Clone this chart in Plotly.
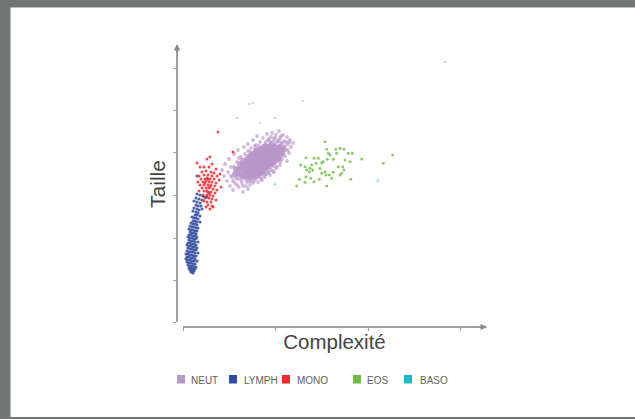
import plotly.graph_objects as go

NEUT_OUTLIERS = [(66,218),(70,219),(54,204),(92,204),(120,221),(77,199),(262,260)]
NEUT_FRINGE = [
(39,152),(41,146),(42,158),(44,141),(45,150),(46,163),(47,136),(48,155),(49,145),(50,132),(51,168),(52,139),(53,149),(54,160),
(55,143),(55,172),(56,135),(57,154),(58,147),(58,165),(59,139),(60,130),(60,157),(61,150),(61,175),(62,143),(62,168),(63,136),(63,161),
(64,153),(64,146),(65,178),(65,171),(65,133),(66,141),(66,158),(66,165),(67,149),(67,137),(68,155),(68,174),(69,144),(69,162),(69,168),
(70,151),(70,182),(70,139),(71,158),(71,147),(71,165),(72,172),(72,153),(72,143),(73,160),(73,177),(73,149),(74,186),(74,167),(74,156),
(75,140),(75,163),(75,152),(76,171),(76,146),(76,158),(77,180),(77,165),(77,151),(78,143),(78,161),(78,174),(79,155),(79,168),(79,148),
(80,184),(80,163),(80,157),(81,176),(81,150),(81,171),(82,160),(82,166),(82,145),(83,153),(83,180),(83,173),(84,158),(84,164),(84,188),
(85,150),(85,169),(85,176),(86,155),(86,161),(86,183),(87,147),(87,166),(87,172),(88,158),(88,179),(88,152),(89,164),(89,170),(89,189),
(90,175),(90,156),(90,161),(91,167),(91,183),(91,150),(92,172),(92,178),(92,159),(93,164),(93,169),(93,187),(94,175),(94,155),(95,181),
(95,162),(95,170),(96,166),(96,176),(96,191),(97,157),(97,173),(97,184),(98,168),(98,179),(99,163),(99,175),(100,187),(100,171),(101,181),
(102,166),(102,176),(103,172),(104,185),(104,161),(105,178),(106,169),(107,182),(108,175),(110,179),
(48,146),(50,141),(51,155),(53,144),(54,137),(56,148),(56,164),(58,142),(59,158),(60,136),(62,148),(62,160),(64,140),(65,166),(66,145),(67,170),(68,141),
(70,165),(71,141),(72,176),(73,144),(74,172),(75,145),(76,176),(77,146),(78,170),(79,142),(80,176),(81,146),(82,178),(83,148),(84,176),(85,182),(86,150),
(87,180),(88,185),(90,151),(90,180),(92,184),(93,154),(94,180),(96,182),(97,160),(98,186),(99,179),(101,170),(101,175),(103,180),(105,172),(106,180),
]
NEUT_DENSE = [
(52,148),(53,153),(55,148),(56,153),(57,158),(58,150),(59,146),(60,155),(60,161),(61,147),(62,153),(63,149),(63,158),(64,145),(64,163),(65,152),(65,157),
(66,148),(66,154),(66,161),(67,145),(67,150),(67,157),(67,165),(68,147),(68,152),(68,160),(68,166),(69,149),(69,155),(69,160),(70,146),(70,153),(70,158),
(70,168),(71,150),(71,155),(71,162),(72,148),(72,157),(72,160),(72,168),(73,152),(73,156),(73,165),(73,171),(74,149),(74,154),(74,160),(75,150),(75,158),
(75,166),(75,172),(76,153),(76,157),(76,163),(76,169),(77,149),(77,155),(77,160),(77,168),(78,152),(78,157),(78,164),(78,172),(79,150),(79,156),(79,161),
(79,169),(80,154),(80,160),(80,166),(80,173),(81,152),(81,157),(81,163),(81,169),(82,155),(82,161),(82,168),(82,175),(83,158),(83,164),(83,171),(84,155),
(84,161),(84,167),(84,174),(85,158),(85,164),(85,171),(86,156),(86,162),(86,168),(86,175),(87,159),(87,165),(87,172),(88,161),(88,168),(88,176),(89,158),
(89,164),(89,171),(90,162),(90,167),(90,174),(91,160),(91,166),(91,172),(92,164),(92,169),(92,175),(93,162),(93,168),(93,173),(94,165),(94,171),(95,168),
(95,174),(96,163),(96,171),(97,168),(97,175),(98,171),(99,168),(100,173),
]
LYMPH = [
(14,146),(14,128),(17,127),(20,126),(22,125),(24,125),(13,124),(16,123),(19,122),(11,121),(14,120),(17,119),(13,117),(15,116),(18,116),(11,114),(14,113),(16,112),
(19,113),(10,111),(13,110),(15,109),(12,107),(14,107),(17,106),(9,105),(11,104),(13,104),(15,103),(10,101),(12,101),(14,100),(17,100),(8,99),(10,98),(12,98),(14,97),
(7,96),(9,95),(11,95),(13,94),(15,94),(6,93),(8,92),(10,92),(12,91),(14,91),(7,90),(9,89),(11,89),(13,88),(6,87),(8,87),(10,86),(12,86),(14,85),(5,85),(7,84),(9,84),
(11,83),(13,83),(6,82),(8,81),(10,81),(12,80),(15,80),(5,79),(7,79),(9,78),(11,78),(13,77),(4,77),(6,76),(8,76),(10,75),(12,75),(14,74),(5,74),(7,73),(9,73),(11,72),
(13,72),(4,71),(6,70),(8,70),(10,70),(12,69),(15,69),(3,68),(5,68),(7,67),(9,67),(11,66),(13,66),(4,65),(6,65),(8,64),(10,64),(12,63),(3,63),(5,62),(7,62),(9,61),
(11,61),(14,61),(4,60),(6,59),(8,59),(10,58),(12,58),(5,57),(7,56),(9,56),(11,55),(13,55),(6,54),(8,54),(10,53),(12,53),(7,52),(9,51),(11,51),(8,50),(10,49),
]
MONO = [
(35,190),(27,165),(14,159),(24,163),(29,158),(17,155),(21,155),(26,155),(33,153),(19,150),(23,151),(28,150),(31,149),(37,148),(16,146),(21,147),
(25,147),(29,146),(34,146),(18,143),(22,143),(24,144),(27,143),(31,143),(36,142),(15,140),(20,140),(23,141),(26,140),(29,140),(33,139),(17,137),
(21,137),(25,137),(28,137),(32,136),(38,135),(19,134),(23,134),(26,134),(30,133),(34,132),(16,131),(21,131),(25,130),(28,130),(32,129),(20,127),
(24,127),(27,127),(30,126),(22,124),(26,124),(29,123),(33,122),(21,121),(24,120),(28,120),(25,117),(29,116),(23,115),(27,113),(30,115),(25,143),(22,139),(27,135),
(24,131),(26,129),(50,170),
]
EOS = [
(142,180.3),(143.7,172.7),(157,173.7),(152.7,172.7),(161,172.7),(165.3,168.7),(169.3,168.7),(145.3,168.7),(147,167),(153.7,168.7),(123,164.3),
(131,163.7),(135.3,163.7),(144.3,162.7),(150.3,162.7),(140.3,160.3),(138.7,159.3),(162,162),(167,160.3),(178.7,163),(209.7,167),(200.3,158.7),
(117.7,157),(122,155.3),(128.7,157),(133,158.7),(155.3,155.3),(159.7,155.3),(161,152),(137,153.7),(127,153.7),(123.7,152),(126.3,150.3),
(142,150.3),(138.7,148.7),(150.3,149.7),(158.7,148.7),(157,147),(146.3,147),(148.7,143.7),(123,145.3),(116.3,142.7),(127.7,143.7),(122,139.7),
(131,140.3),(136.3,142.7),(167.7,142.7),(113.7,136),(143.7,136),(143,147),(129.7,152),
]
BASO = [(92,137.7),(194.7,141.3),(83.7,147.7)]

LEGEND_NAMES = ["NEUT", "LYMPH", "MONO", "EOS", "BASO"]
LEGEND_COLORS = ["#b897c9", "#2f4a9f", "#ee2a30", "#6fbd45", "#1fb9c2"]
X_TICKS = [0, 92, 185, 277]
Y_TICKS = [0, 42, 84, 127, 170, 212, 254]
X_TITLE, Y_TITLE = "Complexité", "Taille"

W, H = 635, 419
L, R, T, B = 177, 486, 46, 327
PW, PH = R - L, B - T
px = lambda v: (v - L) / PW
py = lambda v: (B - v) / PH
GREY = "#6f7775"
AX = "#a0a0a0"
TXT = "#444444"

fig = go.Figure()
series = [(NEUT_OUTLIERS, 0, 2.6, 0.45), (NEUT_FRINGE, 0, 3.8, 0.65), (NEUT_DENSE, 0, 6, 0.85),
          (LYMPH, 1, 3.2, 0.85), (MONO, 2, 3, 0.85), (EOS, 3, 3, 0.8), (BASO, 4, 3, 0.4)]
for pts, i, size, op in series:
    fig.add_trace(go.Scatter(
        x=[p[0] for p in pts], y=[p[1] for p in pts], mode="markers", name=LEGEND_NAMES[i],
        showlegend=False, marker=dict(color=LEGEND_COLORS[i], size=size, opacity=op, line=dict(width=0)),
        cliponaxis=False))

shapes = [
    dict(type="rect", xref="paper", yref="paper", x0=px(0), x1=px(W), y0=py(H), y1=py(0),
         fillcolor=GREY, line_width=0, layer="below"),
    dict(type="rect", xref="paper", yref="paper", x0=px(10.5), x1=px(W + 2), y0=py(417), y1=py(7.5),
         fillcolor="white", line_width=0, layer="below"),
]
annos = []
SQUARES = [181, 233, 286, 357, 408]
LABELS = [189, 242, 295, 365, 418]
for c, sq, lb, n in zip(LEGEND_COLORS, SQUARES, LABELS, LEGEND_NAMES):
    shapes.append(dict(type="rect", xref="paper", yref="paper", x0=px(sq - 4), x1=px(sq + 4), y0=py(383.5), y1=py(375),
                       fillcolor=c, line_width=0))
    annos.append(dict(text=n, xref="paper", yref="paper", x=px(lb), y=py(380), xanchor="left", yanchor="middle",
                      showarrow=False, font=dict(family="Liberation Sans", size=10, color="#606060")))
# arrow heads
annos.append(dict(xref="paper", yref="paper", x=px(487), y=py(327), ax=-9, ay=0, text="",
                  showarrow=True, arrowhead=2, arrowsize=0.8, arrowwidth=1.6, arrowcolor="#8a8a8a"))
annos.append(dict(xref="paper", yref="paper", x=px(177), y=py(44), ax=0, ay=10, text="",
                  showarrow=True, arrowhead=2, arrowsize=0.8, arrowwidth=1.6, arrowcolor="#8a8a8a"))

fig.update_layout(
    width=W, height=H, autosize=False, margin=dict(l=L, r=W - R, t=T, b=H - B, pad=0),
    paper_bgcolor="white", plot_bgcolor="rgba(0,0,0,0)", shapes=shapes, annotations=annos, showlegend=False,
    xaxis=dict(domain=[6 / PW, 1], range=[0, 303], anchor="free", position=0, showgrid=False, zeroline=False,
               showline=True, linecolor=AX, linewidth=2, ticks="outside", ticklen=3, tickcolor=AX, tickwidth=1,
               tickvals=X_TICKS, showticklabels=False,
               title=dict(text=X_TITLE, standoff=4, font=dict(family="Liberation Sans", size=20.5, color=TXT))),
    yaxis=dict(domain=[5 / PH, 1], range=[0, 276], anchor="free", position=0, showgrid=False, zeroline=False,
               showline=True, linecolor=AX, linewidth=2, ticks="outside", ticklen=3, tickcolor=AX, tickwidth=1,
               tickvals=Y_TICKS, showticklabels=False,
               title=dict(text=Y_TITLE, standoff=1, font=dict(family="Liberation Sans", size=21, color=TXT))),
)
fig.write_html("out.html", config=dict(displayModeBar=False),
               post_script="document.body.style.margin='0';document.body.style.overflow='hidden';")
